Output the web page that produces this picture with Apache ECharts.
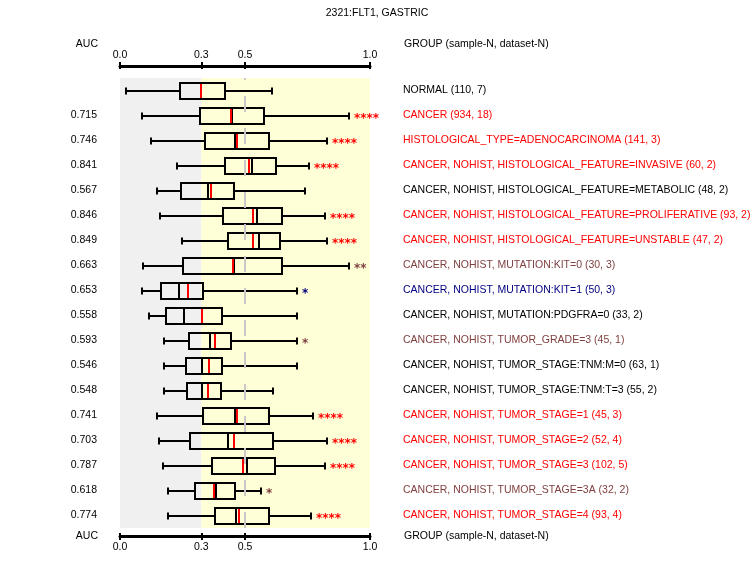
<!DOCTYPE html>
<html>

<head>
  <meta charset="utf-8">
  <script src="https://cdn.jsdelivr.net/npm/echarts@6.0.0/dist/echarts.min.js"></script>
  <style>
    html, body { margin: 0; padding: 0; background: #fff; }
    #chart { width: 755px; height: 580px; }
  </style>
</head>

<body>
  <div id="chart"></div>
  <script>
    // 行标签（右侧）
    const groups = [
      'NORMAL (110, 7)',
      'CANCER (934, 18)',
      'HISTOLOGICAL_TYPE=ADENOCARCINOMA (141, 3)',
      'CANCER, NOHIST, HISTOLOGICAL_FEATURE=INVASIVE (60, 2)',
      'CANCER, NOHIST, HISTOLOGICAL_FEATURE=METABOLIC (48, 2)',
      'CANCER, NOHIST, HISTOLOGICAL_FEATURE=PROLIFERATIVE (93, 2)',
      'CANCER, NOHIST, HISTOLOGICAL_FEATURE=UNSTABLE (47, 2)',
      'CANCER, NOHIST, MUTATION:KIT=0 (30, 3)',
      'CANCER, NOHIST, MUTATION:KIT=1 (50, 3)',
      'CANCER, NOHIST, MUTATION:PDGFRA=0 (33, 2)',
      'CANCER, NOHIST, TUMOR_GRADE=3 (45, 1)',
      'CANCER, NOHIST, TUMOR_STAGE:TNM:M=0 (63, 1)',
      'CANCER, NOHIST, TUMOR_STAGE:TNM:T=3 (55, 2)',
      'CANCER, NOHIST, TUMOR_STAGE=1 (45, 3)',
      'CANCER, NOHIST, TUMOR_STAGE=2 (52, 4)',
      'CANCER, NOHIST, TUMOR_STAGE=3 (102, 5)',
      'CANCER, NOHIST, TUMOR_STAGE=3A (32, 2)',
      'CANCER, NOHIST, TUMOR_STAGE=4 (93, 4)'
    ]
    // 左侧 AUC
    const aucLabels = ['', '0.715', '0.746', '0.841', '0.567', '0.846', '0.849', '0.663', '0.653',
      '0.558', '0.593', '0.546', '0.548', '0.741', '0.703', '0.787', '0.618', '0.774']
    const RED = '#ff0000', BROWN = '#804040', BLUE = '#000080', BLACK = '#000000'
    const labelColors = [BLACK, RED, RED, RED, BLACK, RED, RED, BROWN, BLUE,
      BLACK, BROWN, BLACK, BLACK, RED, RED, RED, BROWN, RED]
    const stars = ['', '****', '****', '****', '', '****', '****', '**', '*',
      '', '*', '', '', '****', '****', '****', '*', '****']

    // 箱线图数值
    const whiskerLow = [0.025, 0.088, 0.124, 0.229, 0.148, 0.160, 0.249, 0.092, 0.088,
      0.117, 0.177, 0.177, 0.177, 0.148, 0.156, 0.172, 0.192, 0.192]
    const q1 = [0.240, 0.320, 0.341, 0.421, 0.244, 0.412, 0.433, 0.252, 0.164,
      0.184, 0.276, 0.264, 0.268, 0.332, 0.279, 0.368, 0.300, 0.380]
    const median = [0.325, 0.448, 0.460, 0.528, 0.353, 0.549, 0.556, 0.455, 0.236,
      0.257, 0.361, 0.329, 0.329, 0.460, 0.433, 0.508, 0.384, 0.464]
    const q3 = [0.421, 0.576, 0.596, 0.624, 0.456, 0.648, 0.640, 0.648, 0.332,
      0.408, 0.444, 0.408, 0.404, 0.596, 0.612, 0.620, 0.460, 0.596]
    const whiskerHigh = [0.608, 0.916, 0.828, 0.756, 0.740, 0.820, 0.828, 0.916, 0.708,
      0.708, 0.708, 0.708, 0.612, 0.772, 0.828, 0.820, 0.564, 0.764]
    const redLine = [0.325, 0.445, 0.468, 0.517, 0.364, 0.533, 0.533, 0.452, 0.273,
      0.329, 0.381, 0.356, 0.352, 0.468, 0.456, 0.492, 0.376, 0.476]

    // 坐标轴刻度
    const tickValues = [0, 0.325, 0.5, 1.0]
    const tickLabels = ['0.0', '0.3', '0.5', '1.0']
    const refLine = 0.5

    const rows = groups.map((g, i) =>
      [i, whiskerLow[i], q1[i], median[i], q3[i], whiskerHigh[i], redLine[i]])

    const FONT = 'Liberation Sans'
    const FS = 10.5
    const tickFmt = v => tickLabels[tickValues.indexOf(v)] || ''

    function xAxisCfg(position, offset, inside, withLabel) {
      return {
        type: 'value', min: 0, max: 1, position, offset,
        axisLine: { show: withLabel, lineStyle: { color: '#000', width: 3 } },
        axisTick: {
          show: true, inside, length: inside ? 3 : 4, customValues: tickValues,
          lineStyle: { color: '#000', width: 2 }
        },
        axisLabel: {
          show: withLabel, customValues: tickValues, formatter: tickFmt,
          color: '#000', fontFamily: FONT, fontSize: FS, margin: position === 'top' ? 5 : 6
        },
        splitLine: { show: false }
      }
    }

    function renderBox(params, api) {
      const yi = api.value(0)
      const c = v => api.coord([v, yi])
      const r = v => Math.round(c(v)[0])
      const y = Math.round(c(0)[1])
      const lo = r(api.value(1)), a = r(api.value(2)), m = r(api.value(3))
      const b = r(api.value(4)), hi = r(api.value(5)), red = r(api.value(6))
      const h = 8, cap = 3.5
      const line = (x1, y1, x2, y2, color) => ({
        type: 'line', shape: { x1, y1, x2, y2 },
        style: { stroke: color || '#000', lineWidth: 2 }
      })
      const children = [
        line(lo, y, a, y), line(b, y, hi, y),
        line(lo, y - cap, lo, y + cap), line(hi, y - cap, hi, y + cap),
        { type: 'rect', shape: { x: a, y: y - h, width: b - a, height: 2 * h },
          style: { fill: 'none', stroke: '#000', lineWidth: 2 } },
        line(m, y - h, m, y + h),
        line(red, y - h + 1, red, y + h - 1, RED)
      ]
      const s = stars[params.dataIndex]
      if (s) {
        children.push({
          type: 'text', x: hi + 5, y: y + 3,
          style: { text: s, fill: labelColors[params.dataIndex], font: 'bold 12px "DejaVu Sans"',
            verticalAlign: 'middle', align: 'left' }
        })
      }
      return { type: 'group', children }
    }

    const textStyle = { fill: '#000', font: FS + 'px "' + FONT + '"', verticalAlign: 'middle' }
    const option = {
      animation: false,
      grid: { left: 120, width: 250, top: 78, height: 450 },
      xAxis: [
        xAxisCfg('top', 12, false, true),
        xAxisCfg('top', 12, true, false),
        xAxisCfg('bottom', 8, false, true),
        xAxisCfg('bottom', 8, true, false)
      ],
      yAxis: [{
        type: 'category', inverse: true, data: aucLabels, position: 'left',
        axisLine: { show: false }, axisTick: { show: false },
        axisLabel: { margin: 23, color: '#000', fontFamily: FONT, fontSize: FS }
      }, {
        type: 'category', inverse: true, data: groups, position: 'right',
        axisLine: { show: false }, axisTick: { show: false },
        axisLabel: { margin: 33, color: (v, i) => labelColors[i], fontFamily: FONT, fontSize: FS }
      }],
      graphic: [
        { type: 'text', x: 377, y: 13, style: { ...textStyle, text: '2321:FLT1, GASTRIC', align: 'center' } },
        { type: 'text', x: 98, y: 44, style: { ...textStyle, text: 'AUC', align: 'right' } },
        { type: 'text', x: 404, y: 44, style: { ...textStyle, text: 'GROUP (sample-N, dataset-N)' } },
        { type: 'text', x: 98, y: 536, style: { ...textStyle, text: 'AUC', align: 'right' } },
        { type: 'text', x: 404, y: 536, style: { ...textStyle, text: 'GROUP (sample-N, dataset-N)' } }
      ],
      series: [{
        type: 'line', data: [], z: 1, silent: true,
        markArea: {
          silent: true,
          data: [
            [{ xAxis: tickValues[0], itemStyle: { color: '#f0f0f0' } }, { xAxis: tickValues[1] }],
            [{ xAxis: tickValues[1], itemStyle: { color: '#ffffd7' } }, { xAxis: tickValues[3] }]
          ]
        },
        markLine: {
          silent: true, symbol: 'none', label: { show: false },
          lineStyle: { color: '#c8c8c8', width: 2, type: [16, 16], dashOffset: 14 },
          data: [{ xAxis: refLine }]
        }
      }, {
        type: 'custom', z: 3, data: rows, renderItem: renderBox,
        encode: { y: 0, x: [1, 2, 3, 4, 5, 6] }
      }]
    }

    const chart = echarts.init(document.getElementById('chart'))
    chart.setOption(option)
  </script>
</body>

</html>
